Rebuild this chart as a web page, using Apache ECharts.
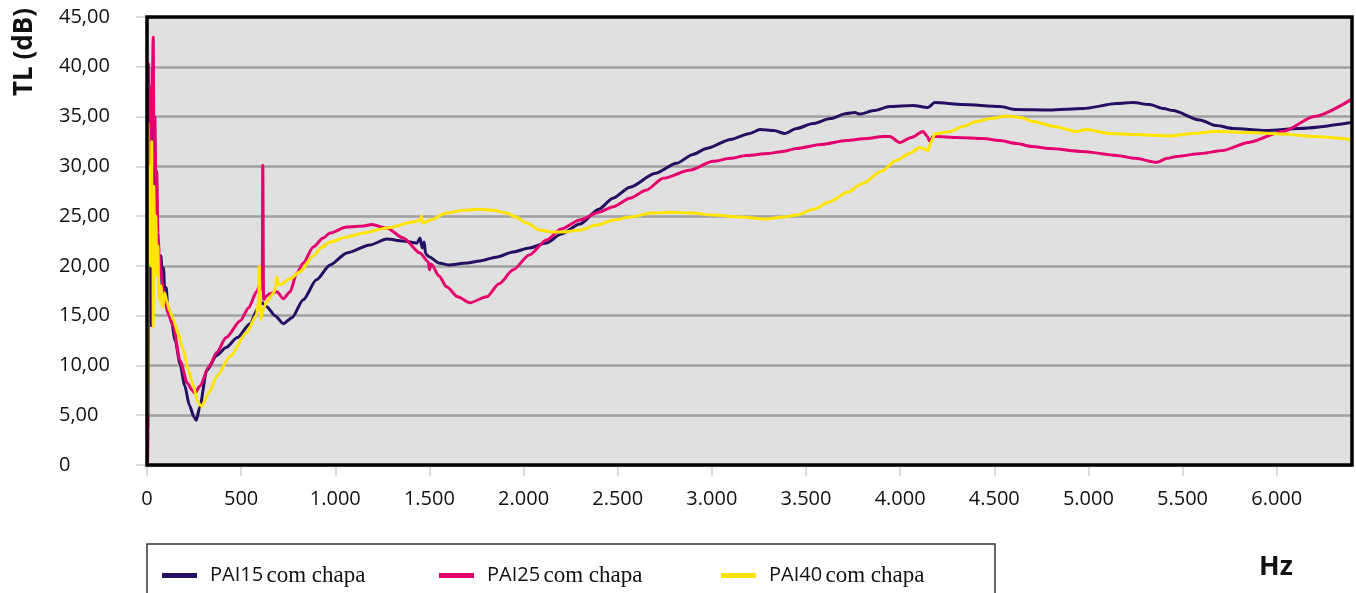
<!DOCTYPE html>
<html>
<head>
<meta charset="utf-8">
<title>TL PAI com chapa</title>
<script src="https://cdn.jsdelivr.net/npm/echarts@6/dist/echarts.min.js"></script>
<style>
  html, body { margin: 0; padding: 0; background: #fff; }
  #chart { width: 1356px; height: 593px; }
</style>
</head>
<body>
<div id="chart"></div>
<script>
// tick labels
const xTicks = [0, 500, 1000, 1500, 2000, 2500, 3000, 3500, 4000, 4500, 5000, 5500, 6000]
const yTicks = [0, 5, 10, 15, 20, 25, 30, 35, 40, 45]

const seriesNames = ['PAI15 com chapa', 'PAI25 com chapa', 'PAI40 com chapa']

// PAI15 (Hz, dB)
const hz15 = [3, 8, 15, 22, 28, 33, 38, 45, 50, 55, 62, 68, 75, 82, 88, 95, 102, 110, 125, 150, 175, 200, 225, 250, 262, 280, 317, 370, 420, 480, 547, 591, 610, 636, 680, 724, 770, 830, 900, 972, 1062, 1184, 1274, 1359, 1434, 1450, 1462, 1472, 1480, 1500, 1550, 1600, 1700, 1768, 1860, 1944, 2030, 2122, 2200, 2299, 2400, 2475, 2565, 2700, 2812, 2900, 2972, 3100, 3202, 3255, 3330, 3387, 3450, 3537, 3630, 3715, 3760, 3786, 3860, 3945, 4068, 4147, 4184, 4333, 4529, 4618, 4794, 4971, 5149, 5237, 5325, 5400, 5449, 5591, 5680, 5768, 5945, 6122, 6395]
const tl15 = [30, 33, 25, 14, 20, 33.8, 33.5, 30, 24, 21, 20.5, 19, 21, 17.5, 19.8, 17, 17.8, 16, 15, 12.5, 10.2, 8, 6, 4.8, 4.5, 5.8, 9.5, 11, 11.8, 12.8, 14.2, 15.8, 16.3, 15.9, 15, 14.2, 14.8, 16.6, 18.6, 20.1, 21.3, 22.1, 22.7, 22.5, 22.3, 22.8, 21.8, 22.4, 21.2, 20.9, 20.3, 20.1, 20.3, 20.5, 20.9, 21.4, 21.8, 22.3, 23.2, 24.2, 25.7, 26.8, 27.9, 29.3, 30.3, 31.2, 31.8, 32.7, 33.3, 33.7, 33.6, 33.3, 33.8, 34.3, 34.8, 35.3, 35.4, 35.25, 35.6, 36.0, 36.1, 35.9, 36.4, 36.2, 36.0, 35.7, 35.65, 35.8, 36.3, 36.4, 36.2, 35.8, 35.6, 34.65, 34.1, 33.8, 33.6, 33.8, 34.4]

// PAI25 (Hz, dB)
const hz25 = [3, 6, 9, 12, 16, 20, 25, 30, 33, 37, 42, 47, 52, 58, 65, 72, 80, 88, 110, 140, 175, 215, 240, 255, 280, 330, 370, 420, 496, 540, 582, 605, 612, 615, 619, 635, 653, 690, 724, 760, 795, 830, 883, 936, 972, 1060, 1149, 1193, 1273, 1361, 1450, 1494, 1500, 1510, 1550, 1591, 1650, 1715, 1804, 1870, 1945, 2030, 2122, 2200, 2299, 2400, 2476, 2565, 2650, 2742, 2880, 3007, 3100, 3184, 3300, 3379, 3450, 3580, 3715, 3820, 3910, 3945, 3998, 4060, 4122, 4145, 4157, 4175, 4193, 4300, 4440, 4529, 4618, 4700, 4794, 4970, 5149, 5250, 5361, 5420, 5467, 5600, 5715, 5850, 6033, 6200, 6395]
const tl25 = [0, 3.5, 40.3, 30, 20, 38, 34, 40, 43, 30, 35, 28, 29.5, 23.3, 21.3, 19.9, 18.5, 17.2, 15.3, 13.9, 10.5, 8.2, 7.5, 7.2, 7.9, 9.9, 11.3, 12.8, 14.5, 15.8, 17.4, 18.3, 17.6, 30.1, 16.6, 17, 17.2, 17.4, 16.7, 17.4, 19.25, 20.3, 21.9, 22.8, 23.3, 23.9, 24.0, 24.15, 23.8, 22.8, 21.3, 20.4, 19.6, 20.2, 19, 17.9, 16.9, 16.3, 16.9, 18.2, 19.6, 21.1, 22.6, 23.7, 24.6, 25.4, 25.95, 26.8, 27.6, 28.8, 29.6, 30.5, 30.8, 31.1, 31.3, 31.5, 31.8, 32.2, 32.6, 32.8, 33.0, 33.0, 32.4, 32.9, 33.5, 33.0, 32.5, 33.0, 33.0, 32.9, 32.8, 32.6, 32.3, 32.0, 31.8, 31.5, 31.1, 30.8, 30.4, 30.8, 31.0, 31.3, 31.6, 32.4, 33.5, 35, 36.7]

// PAI40 (Hz, dB)
const hz40 = [2, 5, 8, 11, 14, 18, 22, 25, 28, 31, 33, 37, 42, 47, 52, 58, 63, 69, 75, 80, 87, 93, 105, 120, 140, 165, 193, 220, 245, 270, 290, 330, 370, 441, 529, 580, 593, 597, 600, 604, 620, 636, 671, 685, 689, 697, 706, 760, 812, 883, 930, 972, 1060, 1149, 1273, 1414, 1450, 1458, 1463, 1503, 1591, 1680, 1768, 1840, 1910, 1960, 2016, 2087, 2150, 2211, 2299, 2388, 2480, 2565, 2680, 2777, 2900, 3007, 3150, 3290, 3380, 3450, 3540, 3626, 3720, 3803, 3900, 3981, 4050, 4104, 4148, 4165, 4184, 4264, 4334, 4405, 4480, 4564, 4640, 4706, 4820, 4936, 4989, 5113, 5250, 5432, 5550, 5680, 5850, 6033, 6200, 6395]
const tl40 = [5, 34.3, 20, 28, 22, 30, 20, 32.5, 21, 26, 13.9, 28, 20, 25, 19, 22, 17, 16.6, 18, 16, 15.9, 17.3, 16.5, 15.5, 14.6, 13.2, 11.55, 9.5, 8, 6.3, 5.9, 7.3, 8.9, 10.9, 13.3, 15, 16.5, 20.0, 17, 14.6, 15.8, 16.4, 17.25, 18.0, 18.9, 18.2, 18.1, 18.7, 19.4, 21.0, 21.9, 22.4, 22.9, 23.3, 23.8, 24.4, 24.6, 25.0, 24.3, 24.6, 25.3, 25.6, 25.7, 25.6, 25.3, 24.9, 24.3, 23.6, 23.4, 23.4, 23.6, 24.1, 24.6, 24.9, 25.3, 25.4, 25.3, 25.1, 24.9, 24.7, 24.9, 25.1, 25.7, 26.45, 27.4, 28.3, 29.5, 30.6, 31.3, 31.9, 31.6, 32.5, 33.25, 33.5, 34.0, 34.5, 34.8, 35.05, 34.9, 34.5, 34.0, 33.5, 33.7, 33.3, 33.2, 33.05, 33.3, 33.5, 33.4, 33.25, 33.0, 32.7]

const colors = ['#250f62', '#e5006f', '#ffe400']

const chart = echarts.init(document.getElementById('chart'))

function pairs(xs, ys) {
  return xs.map((x, i) => [x, ys[i]])
}

function fmtX(v) {
  if (v < 1000) return String(v)
  return Math.floor(v / 1000) + '.' + String(v % 1000).padStart(3, '0')
}

function fmtY(v) {
  if (v === 0) return '0'
  return v.toFixed(2).replace('.', ',')
}

// legenda: cada item com sua posição
const legendLeft = [157, 434, 716]
const legends = seriesNames.map((name, i) => ({
  data: [name],
  left: legendLeft[i],
  top: 559,
  icon: 'rect',
  itemWidth: 35,
  itemHeight: 5,
  formatter: n => {
    const parts = n.split(' ')
    return '{a|' + parts[0] + '} {b|' + parts.slice(1).join(' ') + '}'
  },
  textStyle: {
    padding: [0, 0, 0, 8],
    rich: {
      a: { fontFamily: 'Open Sans', fontSize: 20, color: '#111' },
      b: { fontFamily: 'Liberation Serif', fontSize: 23, color: '#111' }
    }
  }
}))

const option = {
  animation: false,
  backgroundColor: '#fff',
  grid: {
    left: 147,
    right: 4,
    top: 17,
    bottom: 128,
    show: true,
    backgroundColor: '#e0e0e0',
    borderWidth: 0
  },
  legend: legends,
  graphic: [
    {
      // moldura preta da área do gráfico
      type: 'rect',
      z: 100,
      shape: { x: 147, y: 17, width: 1205, height: 448 },
      style: { fill: 'none', stroke: '#000', lineWidth: 3.5 }
    },
    {
      type: 'rect',
      shape: { x: 147, y: 544, width: 848, height: 60 },
      style: { fill: 'none', stroke: '#333', lineWidth: 1.5 }
    },
    {
      type: 'text',
      x: 25,
      y: 52,
      rotation: Math.PI / 2,
      style: {
        text: 'TL (dB)',
        font: 'bold 26px "Open Sans"',
        fill: '#111',
        textAlign: 'center',
        textVerticalAlign: 'middle'
      }
    },
    {
      type: 'text',
      x: 1276,
      y: 567,
      style: {
        text: 'Hz',
        font: 'bold 27px "Open Sans"',
        fill: '#111',
        textAlign: 'center',
        textVerticalAlign: 'middle'
      }
    }
  ],
  xAxis: {
    type: 'value',
    min: 0,
    max: 6400,
    interval: 500,
    axisLine: { show: false },
    axisTick: {
      length: 11,
      customValues: xTicks,
      lineStyle: { color: '#cfcfcf', width: 1.5 }
    },
    axisLabel: {
      customValues: xTicks,
      formatter: fmtX,
      margin: 24,
      fontFamily: 'Open Sans',
      fontSize: 20,
      color: '#111'
    },
    splitLine: { show: false }
  },
  yAxis: {
    type: 'value',
    min: 0,
    max: 45,
    interval: 5,
    axisLine: { show: false },
    axisTick: {
      length: 11,
      customValues: yTicks,
      lineStyle: { color: '#cfcfcf', width: 1.5 }
    },
    axisLabel: {
      customValues: yTicks,
      formatter: fmtY,
      align: 'left',
      margin: 88,
      padding: [4, 0, 0, 0],
      fontFamily: 'Open Sans',
      fontSize: 20,
      color: '#111'
    },
    splitLine: { lineStyle: { color: '#a0a0a0', width: 2.5 } }
  },
  series: [
    { name: seriesNames[0], data: pairs(hz15, tl15) },
    { name: seriesNames[1], data: pairs(hz25, tl25) },
    { name: seriesNames[2], data: pairs(hz40, tl40) }
  ].map((s, i) => ({
    ...s,
    type: 'line',
    showSymbol: false,
    smooth: 0.25,
    smoothMonotone: 'x',
    color: colors[i],
    lineStyle: { color: colors[i], width: 3 }
  }))
}

chart.setOption(option)
</script>
</body>
</html>
